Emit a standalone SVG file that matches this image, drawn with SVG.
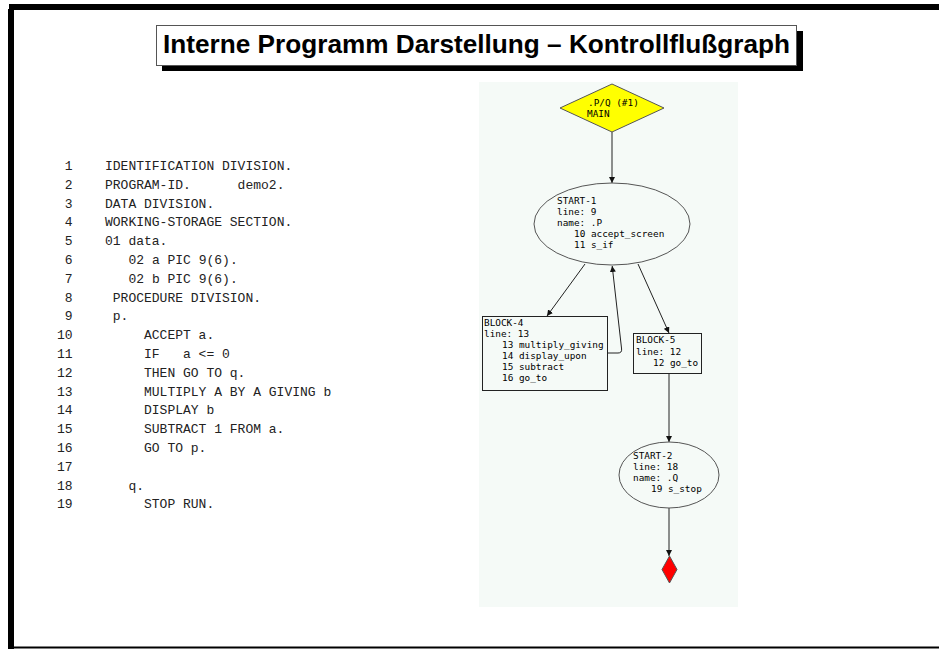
<svg xmlns="http://www.w3.org/2000/svg" width="939" height="649" viewBox="0 0 939 649">
<style>
.code{font-family:"Liberation Mono","Courier New",monospace;font-size:13px;fill:#222;white-space:pre}
.num{text-anchor:end}
.g{font-family:"DejaVu Sans Mono",monospace;font-size:9.4px;fill:#000;white-space:pre}
.edge{fill:none;stroke:#222;stroke-width:1}
.shape{stroke:#555;stroke-width:1}
</style>
<defs>
<marker id="ah" viewBox="0 0 8 8" refX="8" refY="4" markerWidth="6" markerHeight="6" orient="auto" markerUnits="userSpaceOnUse">
<path d="M0,0 L8,4 L0,8 z" fill="#111"/>
</marker>
</defs>
<rect width="939" height="649" fill="#fff"/>
<g id="frame">
<rect x="9" y="4" width="930" height="6" fill="#000"/>
<rect x="8" y="9" width="6" height="640" fill="#000"/>
<rect x="8" y="646.5" width="931" height="2" fill="#000"/>
</g>
<g id="title">
<rect x="162" y="31" width="641" height="40" fill="#000"/>
<rect x="156.5" y="25.5" width="640" height="40" fill="#fff" stroke="#555" stroke-width="1"/>
<text x="163" y="53" font-family="Liberation Sans, Arial, sans-serif" font-weight="bold" font-size="25" textLength="627" lengthAdjust="spacingAndGlyphs" fill="#000">Interne Programm Darstellung – Kontrollflußgraph</text>
</g>
<g id="code">
<text class="code num" x="72.5" y="170">1</text><text class="code" x="105" y="170">IDENTIFICATION DIVISION.</text>
<text class="code num" x="72.5" y="188.8">2</text><text class="code" x="105" y="188.8">PROGRAM-ID.      demo2.</text>
<text class="code num" x="72.5" y="207.6">3</text><text class="code" x="105" y="207.6">DATA DIVISION.</text>
<text class="code num" x="72.5" y="226.4">4</text><text class="code" x="105" y="226.4">WORKING-STORAGE SECTION.</text>
<text class="code num" x="72.5" y="245.2">5</text><text class="code" x="105" y="245.2">01 data.</text>
<text class="code num" x="72.5" y="264">6</text><text class="code" x="128.5" y="264">02 a PIC 9(6).</text>
<text class="code num" x="72.5" y="282.8">7</text><text class="code" x="128.5" y="282.8">02 b PIC 9(6).</text>
<text class="code num" x="72.5" y="301.6">8</text><text class="code" x="112.8" y="301.6">PROCEDURE DIVISION.</text>
<text class="code num" x="72.5" y="320.4">9</text><text class="code" x="112.8" y="320.4">p.</text>
<text class="code num" x="72.5" y="339.2">10</text><text class="code" x="144" y="339.2">ACCEPT a.</text>
<text class="code num" x="72.5" y="358">11</text><text class="code" x="144" y="358">IF   a &lt;= 0</text>
<text class="code num" x="72.5" y="376.8">12</text><text class="code" x="144" y="376.8">THEN GO TO q.</text>
<text class="code num" x="72.5" y="395.6">13</text><text class="code" x="144" y="395.6">MULTIPLY A BY A GIVING b</text>
<text class="code num" x="72.5" y="414.4">14</text><text class="code" x="144" y="414.4">DISPLAY b</text>
<text class="code num" x="72.5" y="433.2">15</text><text class="code" x="144" y="433.2">SUBTRACT 1 FROM a.</text>
<text class="code num" x="72.5" y="452">16</text><text class="code" x="144" y="452">GO TO p.</text>
<text class="code num" x="72.5" y="470.8">17</text>
<text class="code num" x="72.5" y="489.6">18</text><text class="code" x="128.5" y="489.6">q.</text>
<text class="code num" x="72.5" y="508.4">19</text><text class="code" x="144" y="508.4">STOP RUN.</text>
</g>
<rect id="graph-bg" x="479" y="82" width="259" height="525" fill="#f5faf7"/>
<g id="connectors">
<line class="edge" x1="612" y1="132" x2="612" y2="183" marker-end="url(#ah)"/>
<line class="edge" x1="585" y1="264" x2="547" y2="316" marker-end="url(#ah)"/>
<line class="edge" x1="638" y1="264" x2="669" y2="333" marker-end="url(#ah)"/>
<path class="edge" d="M608,353 L618,353 Q622,353 621.6,349 L612.2,266" marker-end="url(#ah)"/>
<line class="edge" x1="669" y1="373" x2="669" y2="442" marker-end="url(#ah)"/>
<line class="edge" x1="669" y1="508" x2="669" y2="556" marker-end="url(#ah)"/>
</g>
<g id="main">
<polygon class="shape" points="612,84 664,108 612,132 560,108" fill="#ffff00"/>
<text class="g" x="588" y="106">.P/Q (#1)</text>
<text class="g" x="587" y="117">MAIN</text>
</g>
<g id="start-1">
<ellipse class="shape" cx="612" cy="224" rx="78" ry="41" fill="none"/>
<text class="g" x="557" y="204">START-1</text>
<text class="g" x="557" y="215">line: 9</text>
<text class="g" x="557" y="226">name: .P</text>
<text class="g" x="574" y="237">10 accept_screen</text>
<text class="g" x="574" y="248">11 s_if</text>
</g>
<g id="block-4">
<rect x="482.5" y="316.5" width="125" height="74" fill="none" stroke="#222"/>
<text class="g" x="484" y="326">BLOCK-4</text>
<text class="g" x="484" y="337">line: 13</text>
<text class="g" x="502" y="348">13 multiply_giving</text>
<text class="g" x="502" y="359">14 display_upon</text>
<text class="g" x="502" y="370">15 subtract</text>
<text class="g" x="502" y="381">16 go_to</text>
</g>
<g id="block-5">
<rect x="633.5" y="333.5" width="68" height="40" fill="none" stroke="#222"/>
<text class="g" x="636" y="343">BLOCK-5</text>
<text class="g" x="636" y="355">line: 12</text>
<text class="g" x="653" y="366">12 go_to</text>
</g>
<g id="start-2">
<ellipse class="shape" cx="669" cy="475" rx="50" ry="33" fill="none"/>
<text class="g" x="633" y="459">START-2</text>
<text class="g" x="633" y="470">line: 18</text>
<text class="g" x="633" y="481">name: .Q</text>
<text class="g" x="651" y="492">19 s_stop</text>
</g>
<g id="end">
<polygon class="shape" points="669.5,556 677,569.5 669.5,583 662,569.5" fill="#ff0000"/>
</g>
</svg>
